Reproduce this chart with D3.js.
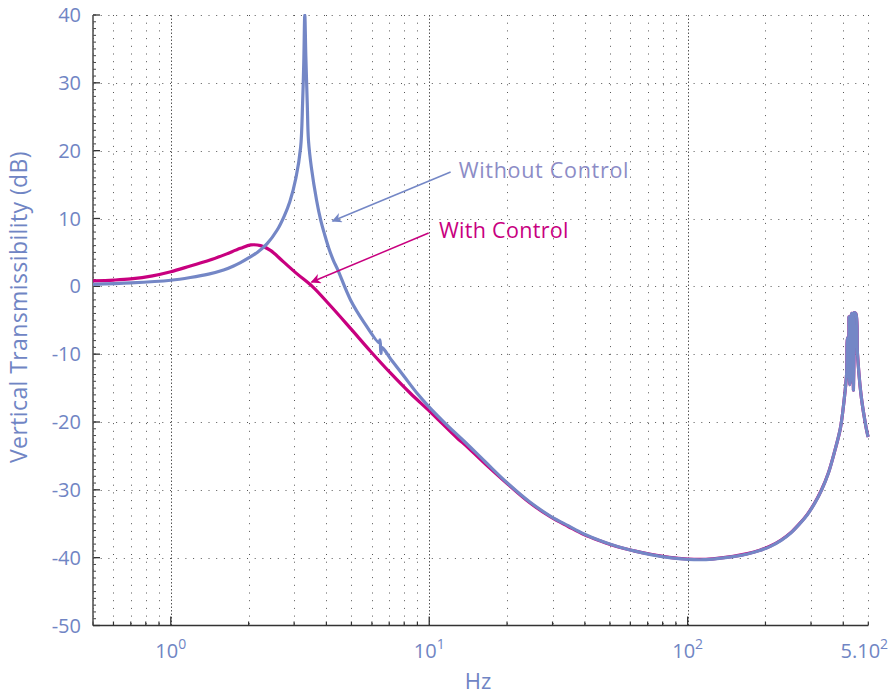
<!DOCTYPE html>
<html>
<head>
<meta charset="utf-8">
<script src="https://cdn.jsdelivr.net/npm/d3@7"></script>
<style>
  html, body { margin: 0; padding: 0; background: #fff; }
  svg { display: block; }
  text { font-family: "Open Sans", "DejaVu Sans", sans-serif; }
</style>
</head>
<body>
<svg id="chart" width="891" height="698"></svg>
<script>
// ---------------- data ----------------
const freqWithout = [0.5, 0.7, 1.0, 1.19, 1.4, 1.6, 1.75, 1.86, 2.0, 2.16, 2.36, 2.58, 2.75, 2.89, 3.05, 3.18, 3.236, 3.27, 3.30, 3.33, 3.373, 3.41, 3.5, 3.665, 3.8, 3.94, 4.08, 4.26, 4.42, 4.96, 5.59, 6.39, 6.45, 6.5, 6.56, 7.09, 8.0, 8.99, 10.0, 11.5, 13.62, 16.5, 20.06, 24.5, 29.5, 34.5, 39.7, 46, 53.5, 62, 72, 85, 100, 115, 130, 150, 170.4, 190, 210, 230, 250, 270, 290, 310, 330, 350, 370, 390, 403, 412, 416, 419, 421, 424, 427, 431, 436, 438, 440, 447, 454, 468, 482, 497, 500];
const dbWithout   = [0.3, 0.5, 0.9, 1.3, 1.8, 2.4, 3.0, 3.5, 4.2, 5.0, 6.3, 8.3, 10.4, 12.5, 16.0, 20.5, 27, 33, 40, 34, 27, 21.5, 17.5, 12.7, 9.8, 7.6, 5.7, 3.8, 2.5, -2.0, -5.3, -8.3, -7.9, -9.9, -9.0, -10.7, -13.3, -15.8, -17.8, -20.15, -22.8, -25.9, -29.0, -31.8, -33.9, -35.3, -36.5, -37.5, -38.35, -39.0, -39.55, -40.0, -40.25, -40.3, -40.15, -39.85, -39.45, -38.95, -38.3, -37.45, -36.4, -35.1, -33.7, -32.0, -30.0, -27.6, -24.4, -20.9, -16.8, -13, -7.6, -7.8, -4.5, -14.5, -12, -4.0, -4.2, -15.3, -3.9, -4.0, -9.9, -15.8, -19.2, -21.9, -22.2];

const freqWith = [0.5, 0.6, 0.7, 0.85, 1.0, 1.19, 1.4, 1.6, 1.86, 2.04, 2.225, 2.43, 2.73, 3.09, 3.527, 4.156, 4.96, 5.935, 7.09, 8.47, 10.09, 12.85, 13.62, 16.5, 20.06, 24.5, 29.5, 34.5, 39.7, 46, 53.5, 62, 72, 85, 100, 115, 130, 150, 170.4, 190, 210, 230, 250, 270, 290, 310, 330, 350, 370, 390, 403, 412, 416, 419, 421, 424, 427, 431, 436, 438, 440, 447, 454, 468, 482, 497, 500];
const dbWith   = [0.8, 0.92, 1.1, 1.55, 2.15, 3.0, 3.8, 4.6, 5.6, 6.1, 6.0, 5.3, 3.6, 1.8, 0.0, -2.9, -6.2, -9.6, -12.8, -15.8, -18.5, -22.4, -23.2, -26.2, -29.1, -31.9, -34.0, -35.4, -36.6, -37.55, -38.4, -39.0, -39.5, -39.95, -40.2, -40.25, -40.1, -39.8, -39.4, -38.9, -38.25, -37.4, -36.35, -35.05, -33.65, -31.95, -29.95, -27.55, -24.4, -20.9, -16.8, -13, -7.6, -7.8, -4.5, -14.5, -12, -4.0, -4.2, -15.3, -3.9, -4.0, -9.9, -15.8, -19.2, -21.9, -22.2];

const yTicks = [-50, -40, -30, -20, -10, 0, 10, 20, 30, 40];
const xTickValues = [1, 10, 100, 500];
const xTickBase = ["10", "10", "10", "5.10"];
const xTickExp = ["0", "1", "2", "2"];

const seriesNames = ["Without Control", "With Control"];
// annotation anchors in data units: text position, arrow tail, arrow tip
const annText  = [[13.0, 16.0], [10.9, 7.1]];
const annTail  = [[12.1, 16.85], [9.95, 7.86]];
const annTip   = [[4.227, 9.63], [3.505, 0.63]];

// ---------------- layout ----------------
const colBlue = "#7487c6";
const colMag = "#c8007f";
const colText = "#7085c4";
const colAnnBlue = "#8c8cc6";

const svg = d3.select("#chart");
const L = 93, R = 868.3, T = 15, B = 625.5;

const x = d3.scaleLog().domain([0.5, 500]).range([L, R]);
const y = d3.scaleLinear().domain([-50, 40]).range([B, T]);

// grid: vertical minor lines
const minorX = [];
[0.1, 1, 10, 100].forEach(d => { for (let k = 2; k <= 9; k++) { const v = d * k; if (v >= 0.5 && v <= 500) minorX.push(v); } });
const majorX = [1, 10, 100];

const grid = svg.append("g");
grid.selectAll("line.vmin").data(minorX).join("line")
  .attr("x1", d => Math.round(x(d)) + 0.5).attr("x2", d => Math.round(x(d)) + 0.5)
  .attr("y1", T).attr("y2", B)
  .attr("stroke", "#555").attr("stroke-width", 1).attr("stroke-dasharray", "1,6.7");
grid.selectAll("line.vmaj").data(majorX).join("line")
  .attr("x1", d => Math.round(x(d)) + 0.5).attr("x2", d => Math.round(x(d)) + 0.5)
  .attr("y1", T).attr("y2", B)
  .attr("stroke", "#555").attr("stroke-width", 1).attr("stroke-dasharray", "1.5,2");
grid.selectAll("line.h").data(yTicks.filter(d => d > -50)).join("line")
  .attr("x1", L).attr("x2", R)
  .attr("y1", d => Math.round(y(d)) + 0.5).attr("y2", d => Math.round(y(d)) + 0.5)
  .attr("stroke", "#555").attr("stroke-width", 1).attr("stroke-dasharray", "1,6.7");

// axes
const yMinor = d3.range(-50, 41, 1);
const axG = svg.append("g");
axG.selectAll("line.ymin").data(yMinor).join("line")
  .attr("x1", L).attr("x2", L + 3)
  .attr("y1", d => y(d)).attr("y2", d => y(d))
  .attr("stroke", "#444").attr("stroke-width", 1);
axG.selectAll("line.ymaj").data(yTicks).join("line")
  .attr("x1", L).attr("x2", L + 7)
  .attr("y1", d => y(d)).attr("y2", d => y(d))
  .attr("stroke", "#333").attr("stroke-width", 1.3);
axG.selectAll("line.xmin").data(minorX).join("line")
  .attr("x1", d => x(d)).attr("x2", d => x(d))
  .attr("y1", B).attr("y2", B - 4)
  .attr("stroke", "#333").attr("stroke-width", 1.2);
axG.selectAll("line.xmaj").data(majorX).join("line")
  .attr("x1", d => x(d)).attr("x2", d => x(d))
  .attr("y1", B).attr("y2", B - 9)
  .attr("stroke", "#333").attr("stroke-width", 1.3);
axG.append("line").attr("x1", L).attr("x2", L).attr("y1", T).attr("y2", B)
  .attr("stroke", "#555").attr("stroke-width", 1.6);
axG.append("line").attr("x1", L).attr("x2", R).attr("y1", B).attr("y2", B)
  .attr("stroke", "#333").attr("stroke-width", 1.6);

// tick labels
svg.append("g").selectAll("text").data(yTicks).join("text")
  .attr("x", 81).attr("y", d => y(d) + 7)
  .attr("text-anchor", "end").attr("font-size", 20).attr("fill", colText)
  .text(d => d);

const xl = svg.append("g").selectAll("text").data(xTickValues).join("text")
  .attr("x", (d, i) => x(d) + (i === 3 ? -4 : 0)).attr("y", 658)
  .attr("text-anchor", "middle").attr("font-size", 20).attr("fill", colText);
xl.append("tspan").text((d, i) => xTickBase[i]);
xl.append("tspan").attr("dy", -9).attr("font-size", 14).text((d, i) => xTickExp[i]);

// axis titles
svg.append("text").attr("x", 478).attr("y", 689).attr("text-anchor", "middle")
  .attr("font-size", 22).attr("fill", colText).text("Hz");
svg.append("text").attr("transform", "translate(27,307) rotate(-90)")
  .attr("text-anchor", "middle").attr("font-size", 23).attr("letter-spacing", 0.4).attr("fill", colText)
  .text("Vertical Transmissibility (dB)");

// curves
svg.append("clipPath").attr("id", "clip").append("rect")
  .attr("x", L).attr("y", T - 1).attr("width", R - L + 2).attr("height", B - T + 1);
const line = d3.line().x(d => x(d[0])).y(d => y(d[1])).curve(d3.curveCatmullRom.alpha(0.5));
const withData = freqWith.map((f, i) => [f, dbWith[i]]);
const withoutData = freqWithout.map((f, i) => [f, dbWithout[i]]);
const curves = svg.append("g").attr("clip-path", "url(#clip)");
curves.append("path").attr("d", line(withData)).attr("fill", "none")
  .attr("stroke", colMag).attr("stroke-width", 3.2).attr("stroke-linejoin", "round");
curves.append("path").attr("d", line(withoutData)).attr("fill", "none")
  .attr("stroke", colBlue).attr("stroke-width", 3.2).attr("stroke-linejoin", "round");

// annotations
const defs = svg.append("defs");
[[colBlue, "arrB"], [colMag, "arrM"]].forEach(([c, id]) => {
  defs.append("marker").attr("id", id).attr("viewBox", "0 0 10 10")
    .attr("refX", 9).attr("refY", 5).attr("markerWidth", 14).attr("markerHeight", 10)
    .attr("markerUnits", "userSpaceOnUse").attr("orient", "auto")
    .append("path").attr("d", "M0,0 L10,5 L0,10 L3,5 Z").attr("fill", c);
});
const annCols = [colBlue, colMag];
const annTextCols = [colAnnBlue, colMag];
const annMarkers = ["arrB", "arrM"];
const annSpacing = [0.7, 0.3];
seriesNames.forEach((name, i) => {
  svg.append("line")
    .attr("x1", x(annTail[i][0])).attr("y1", y(annTail[i][1]))
    .attr("x2", x(annTip[i][0])).attr("y2", y(annTip[i][1]))
    .attr("stroke", annCols[i]).attr("stroke-width", 1.5)
    .attr("marker-end", `url(#${annMarkers[i]})`);
  svg.append("text").attr("x", x(annText[i][0])).attr("y", y(annText[i][1]))
    .attr("font-size", 21.5).attr("letter-spacing", annSpacing[i]).attr("fill", annTextCols[i]).text(name);
});
</script>
</body>
</html>
